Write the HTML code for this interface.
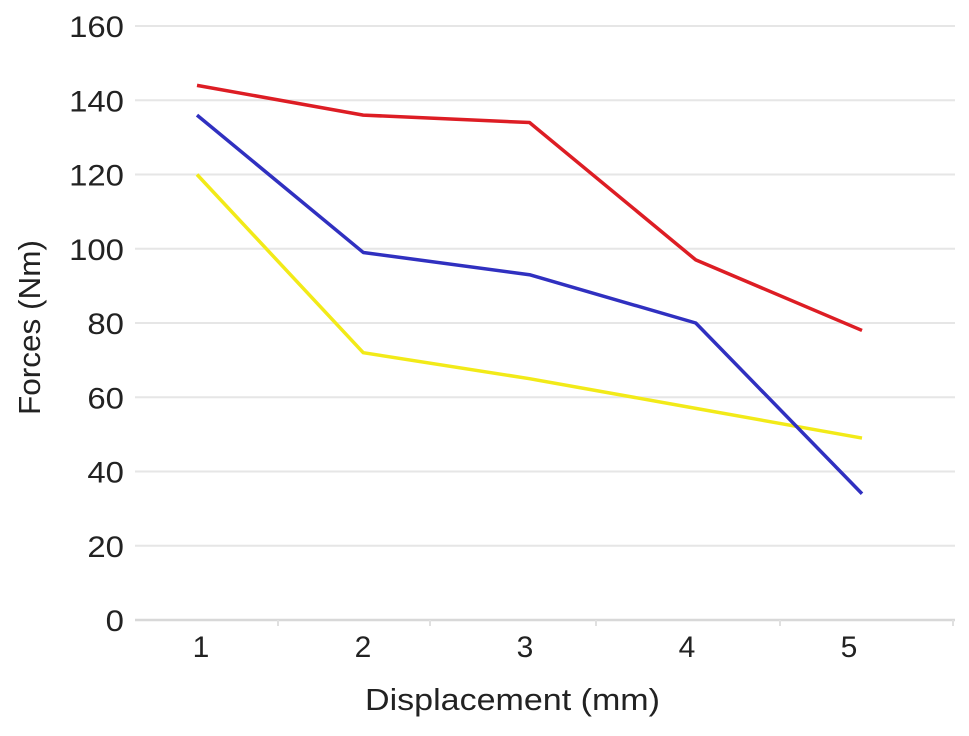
<!DOCTYPE html>
<html><head><meta charset="utf-8"><style>
body{margin:0;background:#fff;width:969px;height:731px;overflow:hidden}
svg text{font-family:"Liberation Sans",sans-serif;fill:#222}
</style></head><body>
<svg id="chart" width="969" height="731" xmlns="http://www.w3.org/2000/svg"></svg>
<script>
const categories=["1","2","3","4","5"];
const yTicks=[0,20,40,60,80,100,120,140,160];
const redValues=[144,136,134,97,78];
const blueValues=[136,99,93,80,34];
const yellowValues=[120,72,65,57,49];
const NS="http://www.w3.org/2000/svg";
const svg=document.getElementById('chart');
function y(v){return 620-v*(594/160);}
function x(i){return 197+i*166.25;}
function lx(i){return 201+i*162;}
function mk(t,a){const e=document.createElementNS(NS,t);for(const k in a)e.setAttribute(k,a[k]);svg.appendChild(e);return e;}
yTicks.forEach(v=>{
  const g=mk('line',{x1:135,x2:955,y1:y(v),y2:y(v),stroke:v===0?'#d8d8d8':'#e6e6e6','stroke-width':v===0?2.5:2});
  
  
  const s=String(v);
  const t=mk('text',{x:124,y:y(v)+11,'text-anchor':'end','font-size':30,textLength:s.length*18.3,lengthAdjust:'spacingAndGlyphs'});
  t.textContent=v;
  
  
});
[278,430,596,780,953].forEach((px,i)=>{
  const tk=mk('line',{x1:px,x2:px,y1:620,y2:626,stroke:'#e0e0e0','stroke-width':2});
  
  
});
categories.forEach((c,i)=>{
  const t=mk('text',{x:lx(i),y:657,'text-anchor':'middle','font-size':30});
  t.textContent=c;
  
  
});
const xt=mk('text',{x:365,y:710,'font-size':31,textLength:295,lengthAdjust:'spacingAndGlyphs'});
xt.textContent='Displacement (mm)';


const yt=mk('text',{x:0,y:0,'font-size':31,textLength:175,lengthAdjust:'spacingAndGlyphs',transform:'translate(40,415) rotate(-90)'});
yt.textContent='Forces (Nm)';


[[yellowValues,'#f2ea18','yellow'],[blueValues,'#3030c0','blue'],[redValues,'#dd1d24','red']].forEach(([vals,col,n])=>{
  const p=mk('polyline',{points:vals.map((v,i)=>x(i)+','+y(v)).join(' '),fill:'none',stroke:col,'stroke-width':3.5,'stroke-linejoin':'round'});
  
  
});
</script>
</body></html>
